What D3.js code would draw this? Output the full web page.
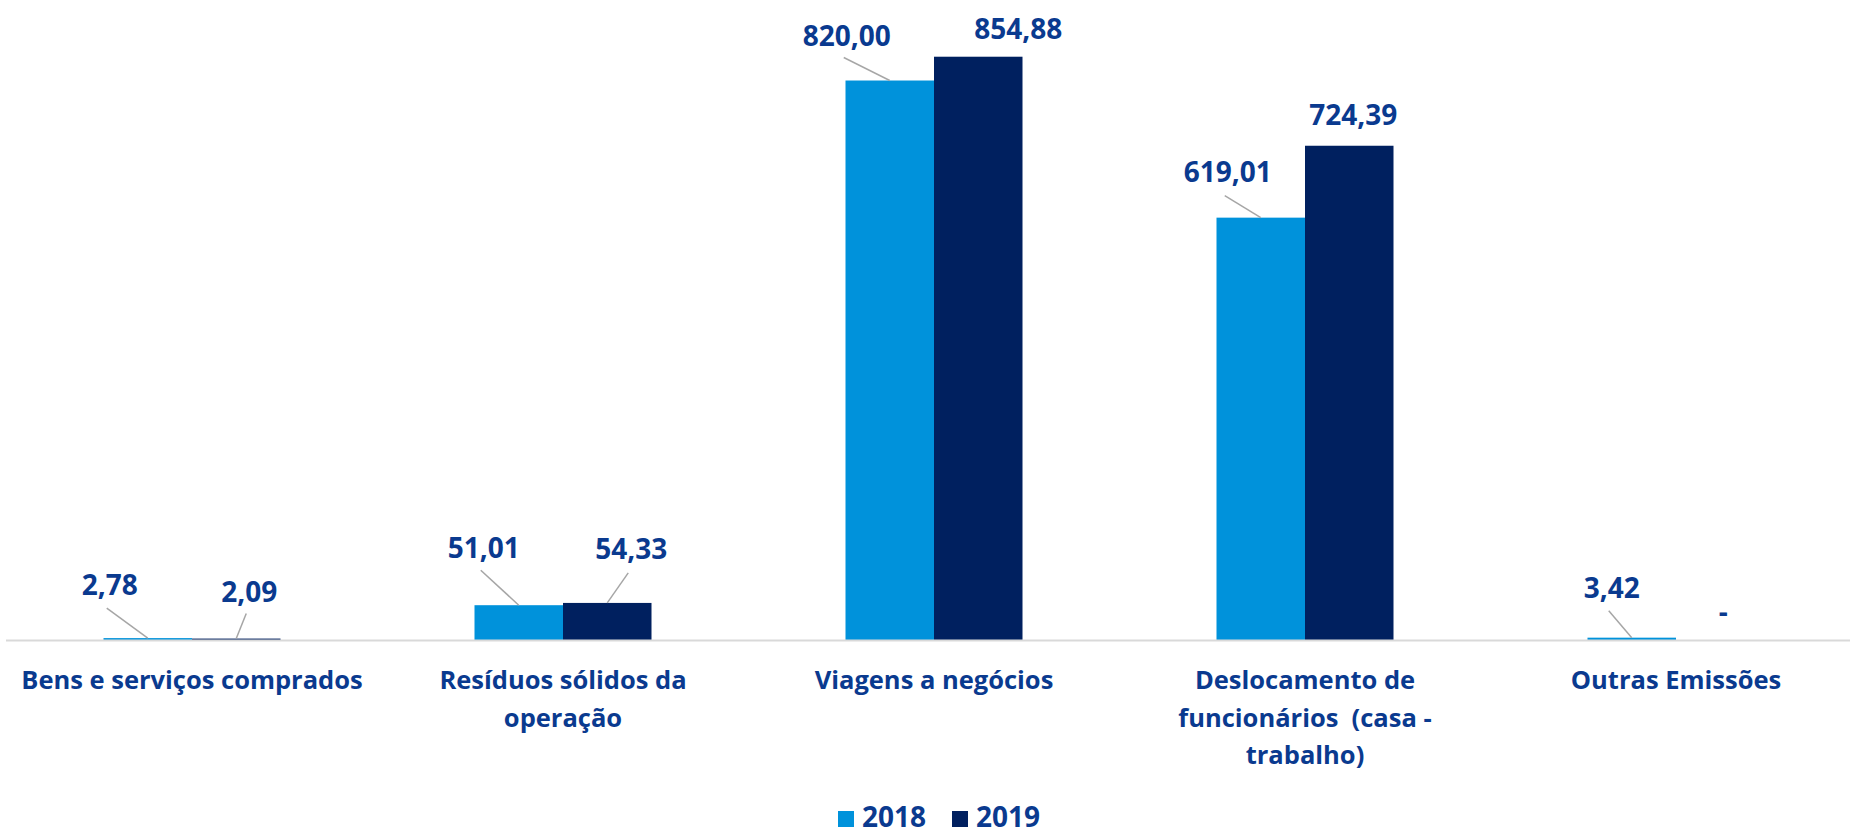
<!DOCTYPE html>
<html>
<head>
<meta charset="utf-8">
<script src="https://cdn.jsdelivr.net/npm/d3@7"></script>
<style>
  html, body { margin: 0; padding: 0; background: #ffffff; }
  text { font-family: "Open Sans", sans-serif; font-weight: 700; fill: #0a3a8f; }
</style>
</head>
<body>
<div id="chart"></div>
<script>
// data
var categories = ["Bens e serviços comprados", "Resíduos sólidos da operação", "Viagens a negócios",
                  "Deslocamento de funcionários  (casa - trabalho)", "Outras Emissões"];
var categoryLines = [["Bens e serviços comprados"], ["Resíduos sólidos da", "operação"], ["Viagens a negócios"],
                     ["Deslocamento de", "funcionários  (casa -", "trabalho)"], ["Outras Emissões"]];
var years = ["2018", "2019"];
var values2018 = [2.78, 51.01, 820.00, 619.01, 3.42];
var values2019 = [2.09, 54.33, 854.88, 724.39, 0];
var labels2018 = ["2,78", "51,01", "820,00", "619,01", "3,42"];
var labels2019 = ["2,09", "54,33", "854,88", "724,39", "-"];

// label nudges from bar top centre: [dx, dy, leader start dx, leader start dy] (null = no leader)
var nudge2018 = [[-38, -43, -41, -30], [-35, -47, -38, -35], [-43, -35, -46, -23], [-33, -36, -36, -22], [-20, -40, -23, -27]];
var nudge2019 = [[13, -37, 10, -25], [24, -44, 21, -30], [40, -18, null, null], [4, -21, null, null], [3, -18, null, null]];

var colors = {"2018": "#0092db", "2019": "#00205f"};

var width = 1850, height = 834;
var baseY = 640;

var svg = d3.select("#chart").append("svg")
    .attr("width", width)
    .attr("height", height);

var x = d3.scaleBand().domain(categories).range([6.5, 1861.5]).padding(0);
var xs = d3.scaleBand().domain(years).range([97, 274]).padding(0);
var y = d3.scaleLinear().domain([0, 938]).range([baseY, 0]);

// build rows
var rows = [];
categories.forEach(function(c, i) {
    rows.push({cat: c, year: "2018", v: values2018[i], label: labels2018[i], n: nudge2018[i]});
    rows.push({cat: c, year: "2019", v: values2019[i], label: labels2019[i], n: nudge2019[i]});
});

// bars
svg.append("g").selectAll("rect")
    .data(rows.filter(function(d) { return d.v > 0; }))
    .enter().append("rect")
    .attr("x", function(d) { return x(d.cat) + xs(d.year); })
    .attr("y", function(d) { return y(d.v); })
    .attr("width", xs.bandwidth())
    .attr("height", function(d) { return baseY - y(d.v); })
    .style("fill", function(d) { return colors[d.year]; });

// axis line
svg.append("line")
    .attr("x1", 6).attr("x2", width)
    .attr("y1", baseY + 0.5).attr("y2", baseY + 0.5)
    .style("stroke", "#d9d9d9")
    .style("stroke-width", 2);

// leader lines
svg.append("g").selectAll("line")
    .data(rows.filter(function(d) { return d.n[2] !== null; }))
    .enter().append("line")
    .attr("x1", function(d) { return x(d.cat) + xs(d.year) + xs.bandwidth() / 2 + d.n[2]; })
    .attr("y1", function(d) { return y(d.v) + d.n[3]; })
    .attr("x2", function(d) { return x(d.cat) + xs(d.year) + xs.bandwidth() / 2; })
    .attr("y2", function(d) { return y(d.v); })
    .style("stroke", "#a6a6a6")
    .style("stroke-width", 1.5);

// value labels
svg.append("g").selectAll("text")
    .data(rows)
    .enter().append("text")
    .attr("x", function(d) { return x(d.cat) + xs(d.year) + xs.bandwidth() / 2 + d.n[0]; })
    .attr("y", function(d) { return y(d.v) + d.n[1]; })
    .attr("text-anchor", "middle")
    .style("font-size", "28px")
    .text(function(d) { return d.label; });

// category labels
var catG = svg.append("g").selectAll("text")
    .data(categories)
    .enter().append("text")
    .attr("text-anchor", "middle")
    .attr("x", function(d) { return x(d) + x.bandwidth() / 2; })
    .attr("y", 689)
    .style("font-size", "25.5px")
    .style("white-space", "pre");

catG.each(function(d, i) {
    var t = d3.select(this);
    categoryLines[i].forEach(function(line, j) {
        t.append("tspan")
            .attr("x", x(d) + x.bandwidth() / 2)
            .attr("dy", j === 0 ? 0 : 37.5)
            .text(line);
    });
});

// legend
var legend = svg.append("g").attr("transform", "translate(838,811)");
var lg = legend.selectAll("g")
    .data(years)
    .enter().append("g")
    .attr("transform", function(d, i) { return "translate(" + (i * 114) + ",0)"; });

lg.append("rect")
    .attr("width", 16).attr("height", 16)
    .style("fill", function(d) { return colors[d]; });

lg.append("text")
    .attr("x", 24).attr("y", 16)
    .style("font-size", "28px")
    .text(function(d) { return d; });
</script>
</body>
</html>
